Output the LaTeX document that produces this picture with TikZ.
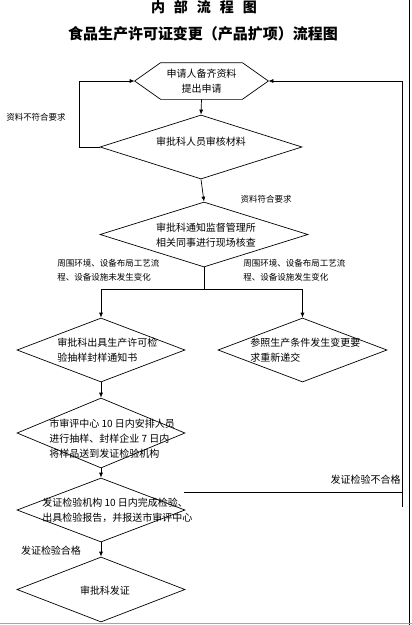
\documentclass[tikz,border=0pt]{standalone}
\usepackage{fontspec}
\setmainfont{Noto Sans CJK SC}
\usetikzlibrary{shapes.geometric, arrows.meta, calc}

\tikzset{
  step box/.style={diamond, draw, inner sep=0pt, aspect=2.6,
    minimum width=168pt, minimum height=64pt},
  hexbox/.style={rectangle, inner sep=0pt, minimum width=133pt,
    minimum height=36pt, align=center, font=\fontsize{10}{15}\selectfont},
  txt/.style={inner sep=0pt, align=left, font=\fontsize{10}{15}\selectfont},
  note/.style={inner sep=0pt, align=left, font=\fontsize{8.5}{14}\selectfont},
  flow/.style={-{Latex[length=5pt,width=4pt]}}
}

\begin{document}
\begin{tikzpicture}[x=1pt, y=-1pt, line width=0.7pt]
        \useasboundingbox (0,0) rectangle (412,625);

        % ===================================================
        % 1. TITLES
        % ===================================================
        \node[font=\fontsize{14}{14}\selectfont\bfseries] (head) at (204,7)
            {内\hspace{9pt}部\hspace{9pt}流\hspace{9pt}程\hspace{9pt}图};
        \node[font=\fontsize{15}{15}\selectfont\bfseries] (subhead) at (203,34)
            {食品生产许可证变更（产品扩项）流程图};

        % ===================================================
        % 2. APPLICATION & MATERIAL CHECK
        % ===================================================

        % Hexagon: applicant hands in material
        \node[hexbox] (apply) at (201.5,81) {申请人备齐资料\\提出申请};
        \draw (apply.west) -- ([xshift=26pt]apply.north west)
            -- ([xshift=-26pt]apply.north east) -- (apply.east)
            -- ([xshift=-26pt]apply.south east)
            -- ([xshift=26pt]apply.south west) -- cycle;

        % Diamond: staff check material
        \node[step box, minimum width=202pt] (check) at (201,147) {};
        \node[txt] (checkT) at (201,142) {审批科人员审核材料};
        \draw[flow] (apply.south) -- (check.north);

        % Material not ok: back to the applicant
        \coordinate (backL) at (79,147);
        \draw[flow] (check.west) -- (backL) |- (apply.west);
        \node[note] (noOk) at (36,117) {资料不符合要求};

        % ===================================================
        % 3. SITE INSPECTION & SPLIT
        % ===================================================
        \node[step box, minimum width=208pt, minimum height=65pt] (site) at (204,234.5) {};
        \node[txt, align=center] (siteT) at (206,235) {审批科通知监督管理所\\相关同事进行现场核查};
        \draw[flow] (check.south) -- (site.north);
        \node[note] (okMat) at (266,199) {资料符合要求};

        \coordinate (split) at (204,289);
        \draw (site.south) -- (split);

        \node[note, anchor=west] (sameL) at (57,270) {周围环境、设备布局工艺流\\程、设备设施未发生变化};
        \node[note, anchor=west] (sameR) at (243,270) {周围环境、设备布局工艺流\\程、设备设施发生变化};

        % Left branch: sampling notice
        \node[step box] (notice) at (101,350) {};
        \node[txt, anchor=west] (noticeT) at (57,350.5) {审批科出具生产许可检\\验抽样封样通知书};

        % Right branch: resubmit
        \node[step box, minimum width=169pt] (redo) at (302.5,350) {};
        \node[txt, anchor=west] (redoT) at (250,350.5) {参照生产条件发生变更要\\求重新递交};

        \draw[flow] (split) -| (notice.north);
        \draw[flow] (split) -| (redo.north);

        % ===================================================
        % 4. SAMPLING, TESTING & LICENCE
        % ===================================================
        \node[step box, minimum height=70pt] (sample) at (101,433) {};
        \node[txt, anchor=west] (sampleT) at (49,439)
            {市审评中心 10 日内安排人员\\进行抽样、封样企业 7 日内\\将样品送到发证检验机构};
        \draw[flow] (notice.south) -- (sample.north);

        \node[step box] (test) at (101,510) {};
        \node[txt, anchor=west] (testT) at (42,510.5)
            {发证检验机构 10 日内完成检验、\\出具检验报告，并报送市审评中心};
        \draw[flow] (sample.south) -- (test.north);

        % Test failed: back to the top
        \coordinate (failA) at (184,492);
        \coordinate (failB) at (402,507);
        \draw (failA) -- (failA -| failB);
        \draw[flow] (failB) |- (apply.east);
        \node[note, anchor=east, font=\fontsize{10}{14}\selectfont] (failT) at (401,480) {发证检验不合格};

        % Test passed
        \node[step box, minimum height=65pt] (issue) at (101,589.5) {};
        \node[txt] (issueT) at (105,591) {审批科发证};
        \draw[flow] (test.south) -- (issue.north);
        \node[note, font=\fontsize{10}{14}\selectfont] (passT) at (51,551) {发证检验合格};

        % Page edges
        \draw (409.5,0) -- (409.5,625);
        \draw[gray!70] (0,623.5) -- (412,623.5);

    \end{tikzpicture}
\end{document}
